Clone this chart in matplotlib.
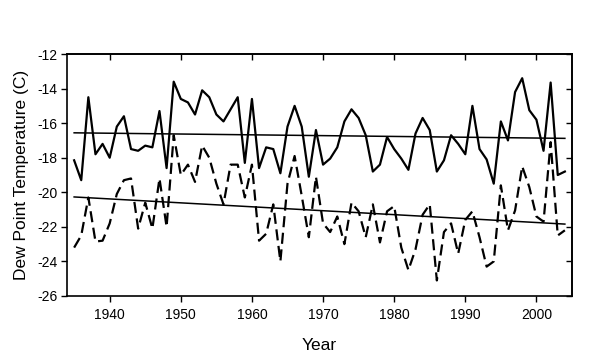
import numpy as np
import matplotlib.pyplot as plt

plt.rcParams['font.family'] = ['Liberation Sans', 'DejaVu Sans']

years = np.arange(1935, 2005)

# solid series
solid = [-18.15, -19.3, -14.5, -17.8, -17.2, -18.0, -16.2, -15.6, -17.5, -17.6,
         -17.3, -17.4, -15.3, -18.6, -13.6, -14.6, -14.8, -15.5, -14.1, -14.5,
         -15.5, -15.9, -15.2, -14.5, -18.3, -14.6, -18.6, -17.4, -17.5, -18.9,
         -16.2, -15.0, -16.2, -19.1, -16.4, -18.4, -18.05, -17.4, -15.9, -15.2,
         -15.7, -16.7, -18.8, -18.4, -16.8, -17.5, -18.05, -18.7, -16.6, -15.7,
         -16.4, -18.8, -18.15, -16.7, -17.2, -17.8, -15.0, -17.5, -18.1, -19.5,
         -15.9, -17.0, -14.2, -13.4, -15.25, -15.8, -17.6, -13.65, -19.0, -18.8]

# dashed series
dashed = [-23.2, -22.5, -20.3, -22.85, -22.8, -21.8, -20.1, -19.3, -19.2, -22.1,
          -20.6, -22.1, -19.2, -22.0, -16.7, -19.0, -18.4, -19.4, -17.3, -18.0,
          -19.5, -20.7, -18.4, -18.4, -20.3, -18.4, -22.8, -22.4, -20.7, -24.0,
          -19.5, -17.9, -20.2, -22.6, -19.1, -21.8, -22.3, -21.4, -23.0, -20.6,
          -21.1, -22.6, -20.7, -22.9, -21.1, -20.8, -23.2, -24.5, -23.3, -21.3,
          -20.7, -25.1, -22.3, -21.8, -23.55, -21.6, -21.1, -22.6, -24.3, -24.0,
          -19.6, -22.2, -21.05, -18.5, -19.7, -21.4, -21.7, -17.1, -22.5, -22.2]

# trend line end points
trend_years = [1935, 2004]
solid_trend = [-16.56, -16.88]
dashed_trend = [-20.27, -21.84]

fig = plt.figure(figsize=(6, 3.57), dpi=100)
ax = fig.add_axes([0.1117, 0.1709, 0.8416, 0.6778])

ax.plot(years, solid, c="black", lw=1.6)
ax.plot(years, dashed, c="black", lw=1.6, dashes=(5, 2.5))
ax.plot(trend_years, solid_trend, c="black", lw=1.1)
ax.plot(trend_years, dashed_trend, c="black", lw=1.1)

ax.set_xlim(1934, 2005)
ax.set_ylim(-26, -12)
ax.set_xticks(range(1940, 2001, 10))
ax.set_yticks(range(-26, -11, 2))
ax.set_yticklabels([str(v) for v in range(-26, -11, 2)])

for s in ax.spines.values():
    s.set_linewidth(1.2)

ax.tick_params(axis='both', which='major', labelsize=10, length=4, width=1, direction='out')
ax.tick_params(axis='x', pad=5)
ax.tick_params(axis='y', pad=3)

# inward ticks on top and right
sec_x = ax.secondary_xaxis('top')
sec_x.set_xticks(range(1940, 2001, 10))
sec_x.tick_params(direction='in', length=4, width=1, labeltop=False)
sec_y = ax.secondary_yaxis('right')
sec_y.set_yticks(range(-26, -11, 2))
sec_y.tick_params(direction='in', length=4, width=1, labelright=False)
sec_x.spines['top'].set_linewidth(1.2)
sec_y.spines['right'].set_linewidth(1.2)

ax.set_xlabel("Year", fontsize=12.5, labelpad=11)
ax.set_ylabel("Dew Point Temperature (C)", fontsize=12.5, labelpad=6)

fig.savefig("out.png", dpi=100)
